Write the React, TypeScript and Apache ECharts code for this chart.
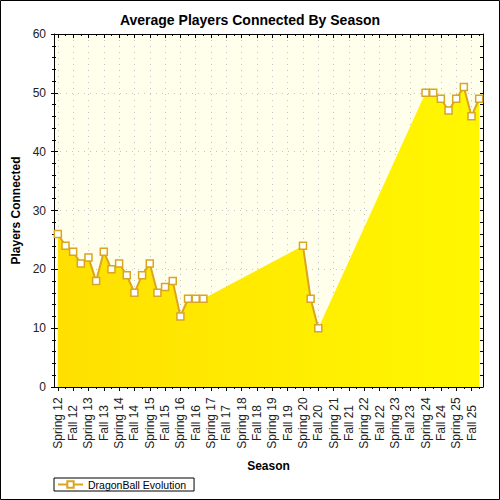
import React, { useEffect, useRef } from 'react';
import * as echarts from 'echarts';

const seasons = [
  'Spring 12', 'Fall 12', 'Spring 13', 'Fall 13', 'Spring 14', 'Fall 14', 'Spring 15', 'Fall 15',
  'Spring 16', 'Fall 16', 'Spring 17', 'Fall 17', 'Spring 18', 'Fall 18', 'Spring 19', 'Fall 19',
  'Spring 20', 'Fall 20', 'Spring 21', 'Fall 21', 'Spring 22', 'Fall 22', 'Spring 23', 'Fall 23',
  'Spring 24', 'Fall 24', 'Spring 25', 'Fall 25',
];

// sample position in half-season steps (0 = Spring 12, 2 = Fall 12, ...)
const sampleSlot = [
  0, 1, 2, 3, 4, 5, 6, 7, 8, 9, 10, 11, 12, 13, 14, 15, 16, 17, 18, 19,
  32, 33, 34,
  48, 49, 50, 51, 52, 53, 54, 55,
];
const players = [
  26, 24, 23, 21, 22, 18, 23, 20, 21, 19, 16, 19, 21, 16, 17, 18, 12, 15, 15, 15,
  24, 15, 10,
  50, 50, 49, 47, 49, 51, 46, 49,
];

const seriesName = 'DragonBall Evolution';
const titleText = 'Average Players Connected By Season';
const xName = 'Season';
const yName = 'Players Connected';

const FONT = '"Liberation Sans", Arial, sans-serif';
const GOLD = '#DAA520';

export default function App() {
  const ref = useRef<HTMLDivElement>(null);

  useEffect(() => {
    document.body.style.margin = '0';
    const chart = echarts.init(ref.current as HTMLDivElement, null, { renderer: 'svg' });

    const slotCount = seasons.length * 4 + 1;
    const catData = Array.from({ length: slotCount }, (_, k) =>
      k % 4 === 1 ? seasons[(k - 1) / 4] : ''
    );
    const isMajor = (k: number) => k % 4 === 1;
    const isMinor = (k: number) => k % 4 === 3;
    const toX = (s: number) => s * 2 + 1;

    const areaData = sampleSlot.map((s, j) => [toX(s), players[j]]);
    const lineData: any[] = [];
    sampleSlot.forEach((s, j) => {
      if (j > 0 && s - sampleSlot[j - 1] > 1) lineData.push([toX(s) - 1, '-']);
      lineData.push([toX(s), players[j]]);
    });

    const cat = (o: any) => ({
      type: 'category',
      gridIndex: 0,
      data: catData,
      boundaryGap: false,
      axisLine: { show: false, onZero: false },
      axisLabel: { show: false },
      axisTick: { show: false },
      splitLine: { show: false },
      ...o,
    });

    const val = (o: any) => ({
      type: 'value',
      gridIndex: 0,
      min: 0,
      max: 60,
      interval: 10,
      axisLine: { show: false, onZero: false },
      axisLabel: { show: false },
      axisTick: { show: false },
      splitLine: { show: false },
      ...o,
    });

    chart.setOption({
      animation: false,
      backgroundColor: '#ffffff',
      title: {
        text: titleText,
        left: 'center',
        top: 8,
        textStyle: { fontFamily: FONT, fontSize: 14, fontWeight: 'bold', color: '#000' },
      },
      grid: {
        left: 54,
        right: 17,
        top: 34,
        bottom: 113,
        show: true,
        backgroundColor: '#FFFFEB',
        borderWidth: 0,
      },
      legend: {
        data: [seriesName],
        left: 54,
        top: 478,
        orient: 'horizontal',
        itemWidth: 25,
        itemHeight: 8,
        itemGap: 5,
        padding: [1, 8, 1, 3],
        borderColor: '#000',
        borderWidth: 1,
        borderRadius: 0,
        textStyle: { fontFamily: FONT, fontSize: 10.5, color: '#000' },
      },
      xAxis: [
        cat({
          position: 'bottom',
          axisLine: { show: true, onZero: false, lineStyle: { color: '#000', width: 1 } },
          axisTick: { show: true, inside: false, length: 4, interval: (i: number) => isMajor(i), lineStyle: { color: '#000' } },
          axisLabel: {
            show: true,
            interval: (i: number) => isMajor(i),
            rotate: 90,
            align: 'center',
            verticalAlign: 'middle',
            margin: 36,
            fontFamily: FONT,
            fontSize: 12,
            color: '#222',
          },
          splitLine: {
            show: true,
            interval: (i: number) => isMajor(i),
            lineStyle: { color: '#C4C4C4', width: 1, type: [1, 5] },
          },
          name: xName,
          nameLocation: 'middle',
          nameGap: 73,
          nameTextStyle: { fontFamily: FONT, fontSize: 12, fontWeight: 'bold', color: '#000' },
        }),
        cat({
          position: 'bottom',
          axisTick: { show: true, inside: true, length: 4, interval: (i: number) => isMajor(i), lineStyle: { color: '#000' } },
        }),
        cat({
          position: 'bottom',
          axisTick: { show: true, inside: false, length: 2, interval: (i: number) => isMinor(i), lineStyle: { color: '#000' } },
        }),
        cat({
          position: 'top',
          axisLine: { show: true, onZero: false, lineStyle: { color: '#000', width: 1 } },
          axisTick: { show: true, inside: true, length: 4, interval: (i: number) => isMajor(i), lineStyle: { color: '#000' } },
        }),
        cat({
          position: 'top',
          axisTick: { show: true, inside: true, length: 2, interval: (i: number) => isMinor(i), lineStyle: { color: '#000' } },
        }),
        {
          type: 'value',
          gridIndex: 0,
          min: 0,
          max: slotCount - 1,
          show: false,
          axisLine: { onZero: false },
        },
      ],
      yAxis: [
        val({
          position: 'left',
          axisLine: { show: true, onZero: false, lineStyle: { color: '#000', width: 1 } },
          axisTick: { show: true, inside: false, length: 3, lineStyle: { color: '#000' } },
          minorTick: { show: true, splitNumber: 5, length: 2, lineStyle: { color: '#000' } },
          axisLabel: { show: true, margin: 8, fontFamily: FONT, fontSize: 12, color: '#222' },
          splitLine: { show: true, lineStyle: { color: '#C4C4C4', width: 1, type: [1, 5] } },
          name: yName,
          nameLocation: 'middle',
          nameGap: 32,
          nameTextStyle: { fontFamily: FONT, fontSize: 12, fontWeight: 'bold', color: '#000' },
        }),
        val({
          position: 'left',
          axisTick: { show: true, inside: true, length: 4, lineStyle: { color: '#000' } },
          minorTick: { show: true, splitNumber: 5, length: 2, lineStyle: { color: '#000' } },
        }),
        val({
          position: 'right',
          interval: 2,
          axisLine: { show: true, onZero: false, lineStyle: { color: '#000', width: 1 } },
          axisTick: { show: true, inside: true, length: 3, lineStyle: { color: '#000' } },
        }),
      ],
      series: [
        {
          name: 'area',
          type: 'line',
          xAxisIndex: 5,
          yAxisIndex: 0,
          data: areaData,
          connectNulls: true,
          showSymbol: false,
          symbol: 'none',
          silent: true,
          lineStyle: { width: 0, opacity: 0 },
          areaStyle: {
            opacity: 1,
            color: new echarts.graphic.LinearGradient(0, 0, 1, 0, [
              { offset: 0, color: '#FFE000' },
              { offset: 1, color: '#FFF700' },
            ]),
          },
          z: 2,
        },
        {
          name: seriesName,
          type: 'line',
          xAxisIndex: 5,
          yAxisIndex: 0,
          data: lineData,
          connectNulls: false,
          symbol: 'rect',
          symbolSize: 7,
          showSymbol: true,
          showAllSymbol: true,
          itemStyle: { color: '#ffffff', borderColor: GOLD, borderWidth: 1.5 },
          lineStyle: { color: GOLD, width: 2 },
          z: 3,
        },
      ],
      graphic: [
        {
          type: 'rect',
          shape: { x: 0.5, y: 0.5, width: 499, height: 499 },
          style: { fill: 'none', stroke: '#000', lineWidth: 1 },
          silent: true,
          z: 100,
        },
      ],
    });

    return () => {
      chart.dispose();
    };
  }, []);

  return <div ref={ref} style={{ width: 500, height: 500 }} />;
}
